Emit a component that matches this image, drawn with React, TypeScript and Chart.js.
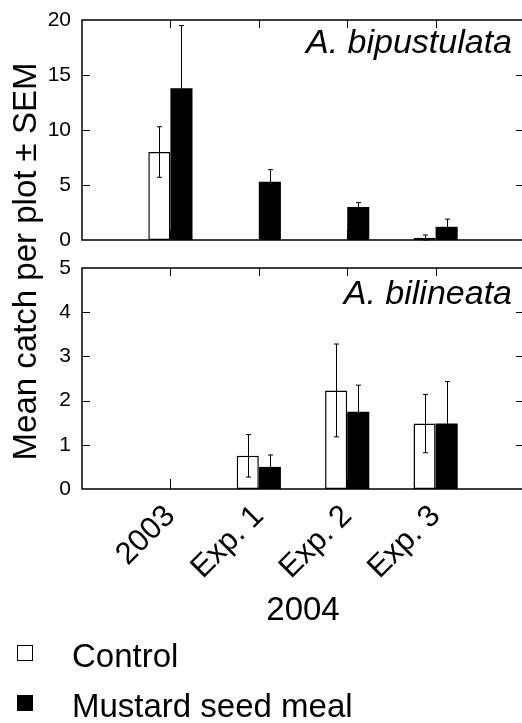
import React, { useEffect, useRef } from 'react';
import { Chart, registerables } from 'chart.js';

Chart.register(...registerables);

// ---------- data ----------
const categories = ['', '2003', 'Exp. 1', 'Exp. 2', 'Exp. 3', ''];
const seriesLabels = ['Control', 'Mustard seed meal'];
const panelTitles = ['A. bipustulata', 'A. bilineata'];
const xTitle = '2004';
const yTitle = 'Mean catch per plot ± SEM';

const topControl = [null, 8.0, 0, 0, 0.2, null];
const topControlErr = [null, 2.3, 0, 0, 0.25, null];
const topMustard = [null, 13.8, 5.3, 3.0, 1.2, null];
const topMustardErr = [null, 5.7, 1.1, 0.4, 0.7, null];

const botControl = [null, null, 0.75, 2.23, 1.48, null];
const botControlErr = [null, null, 0.48, 1.05, 0.66, null];
const botMustard = [null, null, 0.5, 1.75, 1.48, null];
const botMustardErr = [null, null, 0.27, 0.6, 0.95, null];

const topRange = [0, 20];
const topStep = 5;
const botRange = [0, 5];
const botStep = 1;

const FONT = '"Liberation Sans", Arial, Helvetica, sans-serif';

const errorBarsPlugin = {
  id: 'errorBars',
  afterDatasetsDraw(chart: any) {
    const ctx = chart.ctx;
    chart.data.datasets.forEach((ds: any, di: number) => {
      const meta = chart.getDatasetMeta(di);
      const yScale = chart.scales[meta.yAxisID];
      meta.data.forEach((bar: any, i: number) => {
        const v = ds.data[i];
        const e = ds.errors ? ds.errors[i] : null;
        if (v == null || !e) return;
        const x = Math.round(bar.x) + 0.5;
        const yHi = yScale.getPixelForValue(v + e);
        const yLo = yScale.getPixelForValue(Math.max(yScale.min, v - e));
        ctx.save();
        ctx.strokeStyle = '#000';
        ctx.lineWidth = 1;
        ctx.beginPath();
        ctx.moveTo(x, yHi);
        ctx.lineTo(x, yLo);
        ctx.moveTo(x - 2.5, yHi);
        ctx.lineTo(x + 2.5, yHi);
        ctx.moveTo(x - 2.5, yLo);
        ctx.lineTo(x + 2.5, yLo);
        ctx.stroke();
        ctx.restore();
      });
    });
  },
};

const framePlugin = {
  id: 'frame',
  afterDatasetsDraw(chart: any) {
    const ctx = chart.ctx;
    const { left, right } = chart.chartArea;
    const xs = chart.scales.x;
    ctx.save();
    ctx.strokeStyle = '#000';
    ['yTop', 'yBot'].forEach((id) => {
      const s = chart.scales[id];
      const top = s.getPixelForValue(s.max);
      const bottom = s.getPixelForValue(s.min);
      ctx.lineWidth = 1.5;
      ctx.beginPath();
      ctx.moveTo(left, top);
      ctx.lineTo(right, top);
      ctx.lineTo(right, bottom);
      ctx.lineTo(left, bottom);
      ctx.closePath();
      ctx.stroke();
      ctx.lineWidth = 1;
      ctx.beginPath();
      s.ticks.forEach((t: any) => {
        if (t.value <= s.min || t.value >= s.max) return;
        const y = Math.round(s.getPixelForValue(t.value)) + 0.5;
        ctx.moveTo(left, y);
        ctx.lineTo(left + 8, y);
        ctx.moveTo(right, y);
        ctx.lineTo(right - 8, y);
      });
      categories.forEach((c, i) => {
        if (!c) return;
        const x = Math.round(xs.getPixelForValue(i)) + 0.5;
        ctx.moveTo(x, top);
        ctx.lineTo(x, top + 8);
        ctx.moveTo(x, bottom);
        ctx.lineTo(x, bottom - 10);
      });
      ctx.stroke();
    });
    ctx.restore();
  },
};

const textPlugin = {
  id: 'texts',
  afterDraw(chart: any) {
    const ctx = chart.ctx;
    const { right } = chart.chartArea;
    const yTop = chart.scales.yTop;
    const yBot = chart.scales.yBot;
    ctx.save();
    ctx.fillStyle = '#000';
    // panel titles
    ctx.font = 'italic 34px ' + FONT;
    ctx.textAlign = 'right';
    ctx.textBaseline = 'alphabetic';
    ctx.fillText(panelTitles[0], right - 12, yTop.top + 33);
    ctx.fillText(panelTitles[1], right - 12, yBot.top + 36);
    // shared y title
    ctx.save();
    ctx.font = '33px ' + FONT;
    ctx.translate(27, (yTop.top + yBot.bottom) / 2 + 7);
    ctx.rotate(-Math.PI / 2);
    ctx.textAlign = 'center';
    ctx.textBaseline = 'middle';
    ctx.fillText(yTitle, 0, 0);
    ctx.restore();
    // legend
    ctx.font = '33px ' + FONT;
    ctx.textAlign = 'left';
    ctx.textBaseline = 'alphabetic';
    const rows = [667, 717];
    seriesLabels.forEach((lab, i) => {
      const base = rows[i];
      const ds = chart.data.datasets[i];
      ctx.fillStyle = ds.backgroundColor;
      ctx.fillRect(17, base - 22, 16, 16);
      ctx.strokeStyle = '#000';
      ctx.lineWidth = 1;
      ctx.strokeRect(17.5, base - 21.5, 15, 15);
      ctx.fillStyle = '#000';
      ctx.fillText(lab, 72, base);
    });
    ctx.restore();
  },
};

const noPad = (s: any) => {
  s.paddingLeft = 0;
  s.paddingRight = 0;
  s.paddingTop = 0;
  s.paddingBottom = 0;
};

export default function App() {
  const ref = useRef<HTMLCanvasElement | null>(null);
  useEffect(() => {
    if (!ref.current) return;
    const chart = new Chart(ref.current, {
      type: 'bar',
      data: {
        labels: categories,
        datasets: [
          {
            label: seriesLabels[0],
            data: topControl,
            errors: topControlErr,
            yAxisID: 'yTop',
            stack: 'c',
            backgroundColor: '#ffffff',
            borderColor: '#000000',
            borderWidth: 1.5,
            borderSkipped: false,
          } as any,
          {
            label: seriesLabels[1],
            data: topMustard,
            errors: topMustardErr,
            yAxisID: 'yTop',
            stack: 'm',
            backgroundColor: '#000000',
            borderColor: '#000000',
            borderWidth: 0,
          } as any,
          {
            label: seriesLabels[0],
            data: botControl,
            errors: botControlErr,
            yAxisID: 'yBot',
            stack: 'c',
            backgroundColor: '#ffffff',
            borderColor: '#000000',
            borderWidth: 1.5,
            borderSkipped: false,
          } as any,
          {
            label: seriesLabels[1],
            data: botMustard,
            errors: botMustardErr,
            yAxisID: 'yBot',
            stack: 'm',
            backgroundColor: '#000000',
            borderColor: '#000000',
            borderWidth: 0,
          } as any,
        ],
      },
      options: {
        responsive: false,
        animation: false,
        devicePixelRatio: 1,
        layout: { padding: { top: 20, right: 2, left: 0, bottom: 0 } },
        datasets: { bar: { categoryPercentage: 0.5, barPercentage: 1.0 } },
        plugins: { legend: { display: false }, tooltip: { enabled: false } },
        scales: {
          x: {
            type: 'category',
            offset: false,
            grid: { display: false },
            border: { display: false },
            ticks: {
              autoSkip: false,
              maxRotation: 45,
              minRotation: 45,
              padding: 1,
              color: '#000',
              font: { family: FONT, size: 31 },
            },
            title: {
              display: true,
              text: xTitle,
              color: '#000',
              font: { family: FONT, size: 33 },
              padding: { top: 0, bottom: 92 },
            },
            afterFit: (s: any) => {
              s.height = 234;
              noPad(s);
            },
          },
          // stacked left axes are placed in reverse order: last defined is on top
          yBot: {
            type: 'linear',
            position: 'left',
            stack: 'panels',
            stackWeight: 221,
            min: botRange[0],
            max: botRange[1],
            grid: { display: false },
            border: { display: false },
            ticks: { stepSize: botStep, padding: 3, color: '#000', font: { family: FONT, size: 21 } },
            afterFit: (s: any) => {
              s.width = 82;
              noPad(s);
            },
          },
          ySpace: {
            type: 'linear',
            position: 'left',
            stack: 'panels',
            stackWeight: 28,
            grid: { display: false },
            border: { display: false },
            ticks: { display: false },
            afterFit: (s: any) => {
              s.width = 82;
              noPad(s);
            },
          },
          yTop: {
            type: 'linear',
            position: 'left',
            stack: 'panels',
            stackWeight: 220,
            min: topRange[0],
            max: topRange[1],
            grid: { display: false },
            border: { display: false },
            ticks: { stepSize: topStep, padding: 3, color: '#000', font: { family: FONT, size: 21 } },
            afterFit: (s: any) => {
              s.width = 82;
              noPad(s);
            },
          },
        },
      } as any,
      plugins: [framePlugin, errorBarsPlugin, textPlugin],
    });
    return () => chart.destroy();
  }, []);

  return (
    <div
      style={{
        position: 'absolute',
        left: 0,
        top: 0,
        width: 522,
        height: 723,
        overflow: 'hidden',
        background: '#fff',
      }}
    >
      <canvas ref={ref} width={526} height={723} style={{ display: 'block' }} />
    </div>
  );
}
